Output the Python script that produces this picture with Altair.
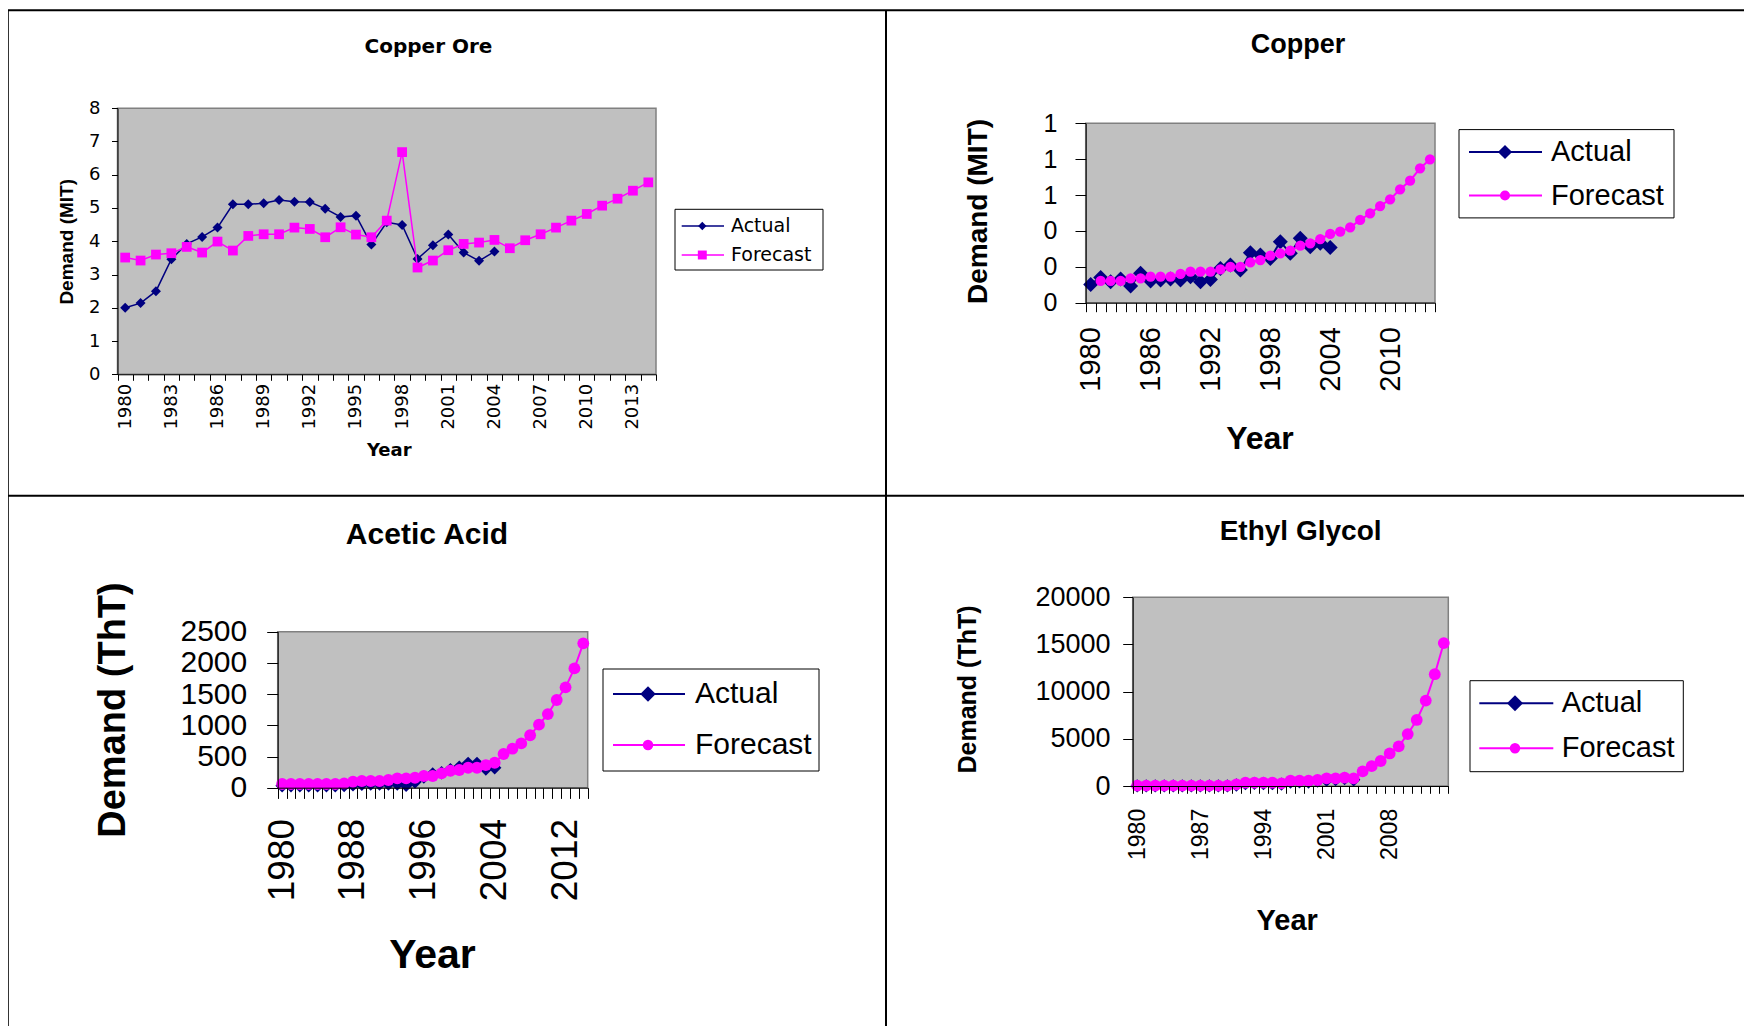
import altair as alt
import pandas as pd

# ---------------- data ----------------
YEARS = list(range(1980, 2015))
SERIES = ["Actual", "Forecast"]
TITLES = ["Copper Ore", "Copper", "Acetic Acid", "Ethyl Glycol"]
Y_TITLES = ["Demand (MIT)", "Demand (MIT)", "Demand (ThT)", "Demand (ThT)"]
X_TITLE = "Year"

# Copper Ore: actual 1980-2004, forecast 1980-2014
ore_actual = [2.0, 2.14, 2.5, 3.46, 3.92, 4.13, 4.41, 5.11, 5.11, 5.14, 5.24, 5.19, 5.18,
              4.98, 4.73, 4.77, 3.9, 4.57, 4.49, 3.47, 3.88, 4.2, 3.66, 3.41, 3.69]
ore_forecast = [3.51, 3.42, 3.6, 3.64, 3.83, 3.66, 3.99, 3.72, 4.16, 4.21, 4.21, 4.41, 4.37,
                4.12, 4.42, 4.2, 4.12, 4.62, 6.68, 3.21, 3.42, 3.73, 3.92, 3.96, 4.04, 3.79,
                4.03, 4.21, 4.41, 4.62, 4.82, 5.07, 5.28, 5.52, 5.77]

# Copper: actual 1980-2004, forecast 1981-2014
copper_actual = [0.102, 0.141, 0.117, 0.132, 0.093, 0.164, 0.121, 0.126, 0.132, 0.126, 0.145,
                 0.117, 0.13, 0.191, 0.21, 0.182, 0.279, 0.266, 0.247, 0.34, 0.275, 0.359,
                 0.312, 0.331, 0.307]
copper_forecast = [0.121, 0.121, 0.121, 0.136, 0.136, 0.145, 0.145, 0.145, 0.16, 0.173, 0.173,
                   0.173, 0.186, 0.2, 0.2, 0.225, 0.238, 0.262, 0.275, 0.29, 0.318, 0.331,
                   0.355, 0.383, 0.396, 0.42, 0.461, 0.498, 0.539, 0.576, 0.632, 0.68, 0.749,
                   0.799]

# Acetic Acid: actual 1980-2004, forecast 1980-2014
acetic_actual = [30, 30, 30, 30, 30, 30, 30, 35, 45, 55, 60, 60, 60, 60, 40, 90, 170, 220,
                 240, 290, 330, 390, 390, 300, 320]
acetic_forecast = [59, 59, 59, 59, 59, 59, 59, 70, 96, 107, 107, 107, 123, 150, 150, 160, 187,
                   187, 230, 272, 283, 320, 320, 363, 400, 540, 625, 710, 840, 1010, 1180,
                   1405, 1608, 1912, 2313]

# Ethyl Glycol: actual 1980-2004, forecast 1980-2014
glycol_actual = [10, 10, 10, 10, 10, 10, 10, 10, 10, 10, 10, 100, 250, 280, 260, 250, 200,
                 420, 450, 430, 520, 620, 680, 800, 650]
glycol_forecast = [40, 40, 40, 40, 40, 40, 40, 40, 40, 40, 40, 175, 350, 350, 350, 350, 280,
                   560, 560, 560, 635, 810, 810, 880, 810, 1550, 2100, 2650, 3450, 4200, 5500,
                   7000, 9050, 11850, 15150]

ore_ticks = [0, 1, 2, 3, 4, 5, 6, 7, 8]
copper_ticks = [0, 0.2, 0.4, 0.6, 0.8, 1.0]
acetic_ticks = [0, 500, 1000, 1500, 2000, 2500]
glycol_ticks = [0, 5000, 10000, 15000, 20000]

# ---------------- layout / style ----------------
W, H = 1726, 1008
OX, OY = 13, 13
NAVY, MAGENTA = "#000080", "#FF00FF"
ARIAL = "Liberation Sans, Arial, Helvetica, sans-serif"
WIDE = "DejaVu Sans, Verdana, sans-serif"


def cx(v):
    return v - OX


def cy(v):
    return v - OY


def one(label):
    return pd.DataFrame({"label": [label]})


def series_df(values, start, name):
    return pd.DataFrame({"year": list(range(start, start + len(values))),
                         "value": values, "series": name})


PANELS = [
    dict(i=0, actual=ore_actual, a_start=1980, forecast=ore_forecast, f_start=1980,
         ticks=ore_ticks, fmt="d", step=3, plot=(117.5, 108.2, 656, 374.3),
         lfont=WIDE, yl_size=18, yl_pad=11.5, ytick=6, xl_size=18, xl_pad=3, xtick=6,
         xt_font=WIDE, xt_size=18, xt_pos=(388.8, 450.8),
         yt_font=ARIAL, yt_size=19, yt_pos=(66.5, 241.3),
         t_font=WIDE, t_size=20, t_pos=(428.5, 47),
         box=(675, 209.3, 823, 270), lline=(681.7, 724), lmark=702.3, ltext=731,
         lrows=(226, 255), lfont_size=19, l_font=WIDE,
         dsize=100, fshape="square", fsize=95, lw=1.5, ldsize=70, lfsize=80),
    dict(i=1, actual=copper_actual, a_start=1980, forecast=copper_forecast, f_start=1981,
         ticks=copper_ticks, fmt=".0f", step=6, plot=(1085.7, 123.3, 1435, 302.7),
         lfont=ARIAL, yl_size=25, yl_pad=18, ytick=10.7, xl_size=29, xl_pad=15, xtick=9,
         xt_font=ARIAL, xt_size=32, xt_pos=(1259.5, 438.4),
         yt_font=ARIAL, yt_size=28, yt_pos=(979, 211),
         t_font=ARIAL, t_size=27, t_pos=(1298, 44.7),
         box=(1459, 129.6, 1674, 217.9), lline=(1469, 1542), lmark=1505, ltext=1551,
         lrows=(152, 195.5), lfont_size=29, l_font=ARIAL,
         dsize=225, fshape="circle", fsize=105, lw=2, ldsize=200, lfsize=100),
    dict(i=2, actual=acetic_actual, a_start=1980, forecast=acetic_forecast, f_start=1980,
         ticks=acetic_ticks, fmt="d", step=8, plot=(277.7, 631.7, 587.7, 787.7),
         lfont=ARIAL, yl_size=30, yl_pad=20, ytick=11, xl_size=37, xl_pad=20, xtick=10.7,
         xt_font=ARIAL, xt_size=41, xt_pos=(432, 955),
         yt_font=ARIAL, yt_size=38, yt_pos=(113.5, 709.5),
         t_font=ARIAL, t_size=30, t_pos=(427, 535),
         box=(603, 669, 819, 771), lline=(613, 685), lmark=648, ltext=695,
         lrows=(694, 745), lfont_size=30, l_font=ARIAL,
         dsize=180, fshape="circle", fsize=140, lw=2, ldsize=240, lfsize=110),
    dict(i=3, actual=glycol_actual, a_start=1980, forecast=glycol_forecast, f_start=1980,
         ticks=glycol_ticks, fmt="d", step=7, plot=(1132.7, 597.3, 1448.3, 786),
         lfont=ARIAL, yl_size=27, yl_pad=12.7, ytick=10, xl_size=23, xl_pad=15, xtick=7.3,
         xt_font=ARIAL, xt_size=29, xt_pos=(1286.7, 920),
         yt_font=ARIAL, yt_size=25, yt_pos=(968, 689),
         t_font=ARIAL, t_size=28, t_pos=(1300.6, 532),
         box=(1470, 680.7, 1683.3, 771.7), lline=(1479.3, 1553.3), lmark=1515, ltext=1561.7,
         lrows=(703.3, 748.3), lfont_size=29, l_font=ARIAL,
         dsize=180, fshape="circle", fsize=140, lw=2, ldsize=256, lfsize=110),
]


def make_panel(p):
    X0, Y0, X1, Y1 = p["plot"]
    x0, x1, y0, y1 = cx(X0), cx(X1), cy(Y0), cy(Y1)
    xscale = alt.Scale(type="band", domain=YEARS, range=[x0, x1],
                       paddingInner=0, paddingOuter=0)
    yscale = alt.Scale(type="linear", domain=[p["ticks"][0], p["ticks"][-1]],
                       range=[y1, y0], nice=False, zero=False)
    step = p["step"]
    xaxis = alt.Axis(
        orient="bottom", offset=y1 - H, tickBand="extent",
        labelExpr=f"(datum.value - 1980) % {step} == 0 ? datum.label : ''",
        labelAngle=270, labelAlign="right", labelBaseline="middle",
        labelFont=p["lfont"], labelFontSize=p["xl_size"], labelColor="black",
        labelPadding=p["xl_pad"], labelOverlap=False,
        tickSize=p["xtick"], tickColor="black", tickWidth=1,
        domainColor="black", domainWidth=1, grid=False,
        title=X_TITLE, titleFont=p["xt_font"], titleFontSize=p["xt_size"],
        titleFontWeight="bold", titleColor="black",
        titleX=cx(p["xt_pos"][0]), titleY=p["xt_pos"][1] - Y1,
        titleAlign="center", titleBaseline="middle", titleAngle=0, zindex=1)
    yaxis = alt.Axis(
        orient="left", offset=-x0, values=p["ticks"], format=p["fmt"],
        labelFont=p["lfont"], labelFontSize=p["yl_size"], labelColor="black",
        labelPadding=p["yl_pad"], labelOverlap=False, labelBaseline="middle",
        tickSize=p["ytick"], tickColor="black", tickWidth=1,
        domainColor="black", domainWidth=1, grid=False,
        title=Y_TITLES[p["i"]], titleFont=p["yt_font"], titleFontSize=p["yt_size"],
        titleFontWeight="bold", titleColor="black",
        titleX=p["yt_pos"][0] - X0, titleY=cy(p["yt_pos"][1]),
        titleAlign="center", titleBaseline="middle", titleAngle=270, zindex=1)

    def X(axis=None):
        if axis is None:
            return alt.X("year:O", scale=xscale, bandPosition=0.5)
        return alt.X("year:O", scale=xscale, axis=axis, bandPosition=0.5)

    def Y(axis=None):
        if axis is None:
            return alt.Y("value:Q", scale=yscale)
        return alt.Y("value:Q", scale=yscale, axis=axis)

    a = series_df(p["actual"], p["a_start"], SERIES[0])
    f = series_df(p["forecast"], p["f_start"], SERIES[1])

    bg = alt.Chart(one("plot")).mark_rect(fill="#C0C0C0", stroke="#808080", strokeWidth=1.5).encode(
        x=alt.value(x0), x2=alt.value(x1), y=alt.value(y0), y2=alt.value(y1))
    line_a = alt.Chart(a).mark_line(color=NAVY, strokeWidth=p["lw"]).encode(x=X(xaxis), y=Y(yaxis))
    pts_a = alt.Chart(a).mark_point(shape="diamond", filled=True, color=NAVY, size=p["dsize"],
                                    opacity=1).encode(x=X(), y=Y())
    line_f = alt.Chart(f).mark_line(color=MAGENTA, strokeWidth=p["lw"]).encode(x=X(), y=Y())
    pts_f = alt.Chart(f).mark_point(shape=p["fshape"], filled=True, color=MAGENTA, size=p["fsize"],
                                    opacity=1).encode(x=X(), y=Y())

    title = alt.Chart(one(TITLES[p["i"]])).mark_text(
        font=p["t_font"], fontSize=p["t_size"], fontWeight="bold", color="black",
        align="center", baseline="middle").encode(
        x=alt.value(cx(p["t_pos"][0])), y=alt.value(cy(p["t_pos"][1])), text="label:N")

    BX0, BY0, BX1, BY1 = p["box"]
    box = alt.Chart(one("legend")).mark_rect(fill="white", stroke="black", strokeWidth=1).encode(
        x=alt.value(cx(BX0)), x2=alt.value(cx(BX1)), y=alt.value(cy(BY0)), y2=alt.value(cy(BY1)))
    legend_layers = [box]
    specs = [(SERIES[0], NAVY, "diamond", p["ldsize"]), (SERIES[1], MAGENTA, p["fshape"], p["lfsize"])]
    for (name, col, shape, size), ry in zip(specs, p["lrows"]):
        legend_layers.append(alt.Chart(one(name)).mark_rule(color=col, strokeWidth=p["lw"]).encode(
            x=alt.value(cx(p["lline"][0])), x2=alt.value(cx(p["lline"][1])), y=alt.value(cy(ry))))
        legend_layers.append(alt.Chart(one(name)).mark_point(
            shape=shape, filled=True, color=col, size=size, opacity=1).encode(
            x=alt.value(cx(p["lmark"])), y=alt.value(cy(ry))))
        legend_layers.append(alt.Chart(one(name)).mark_text(
            font=p["l_font"], fontSize=p["lfont_size"], color="black", align="left",
            baseline="middle").encode(
            x=alt.value(cx(p["ltext"])), y=alt.value(cy(ry)), text="label:N"))

    return alt.layer(bg, line_a, pts_a, line_f, pts_f, title, *legend_layers)


panels = [make_panel(p) for p in PANELS]


# table borders (full-image coordinates)
def vline(X, Ya, Yb):
    return alt.Chart(one("border")).mark_rule(color="black", strokeWidth=2).encode(
        x=alt.value(cx(X)), y=alt.value(cy(Ya)), y2=alt.value(cy(Yb)))


def hline(Y, Xa, Xb):
    return alt.Chart(one("border")).mark_rule(color="black", strokeWidth=2).encode(
        y=alt.value(cy(Y)), x=alt.value(cx(Xa)), x2=alt.value(cx(Xb)))


borders = [
    hline(10.3, 7.8, 1746),
    hline(495.7, 7.8, 1746),
    vline(7.8, 10.3, 1030),
    vline(886, 10.3, 1030),
]

chart = alt.layer(*panels, *borders).resolve_scale(
    x="independent", y="independent").resolve_axis(
    x="independent", y="independent").properties(
    width=W, height=H, padding=5, background="white",
    autosize=alt.AutoSizeParams(type="none")).configure_view(stroke="transparent")

chart.save("out.html", embed_options={"renderer": "svg", "actions": False})
